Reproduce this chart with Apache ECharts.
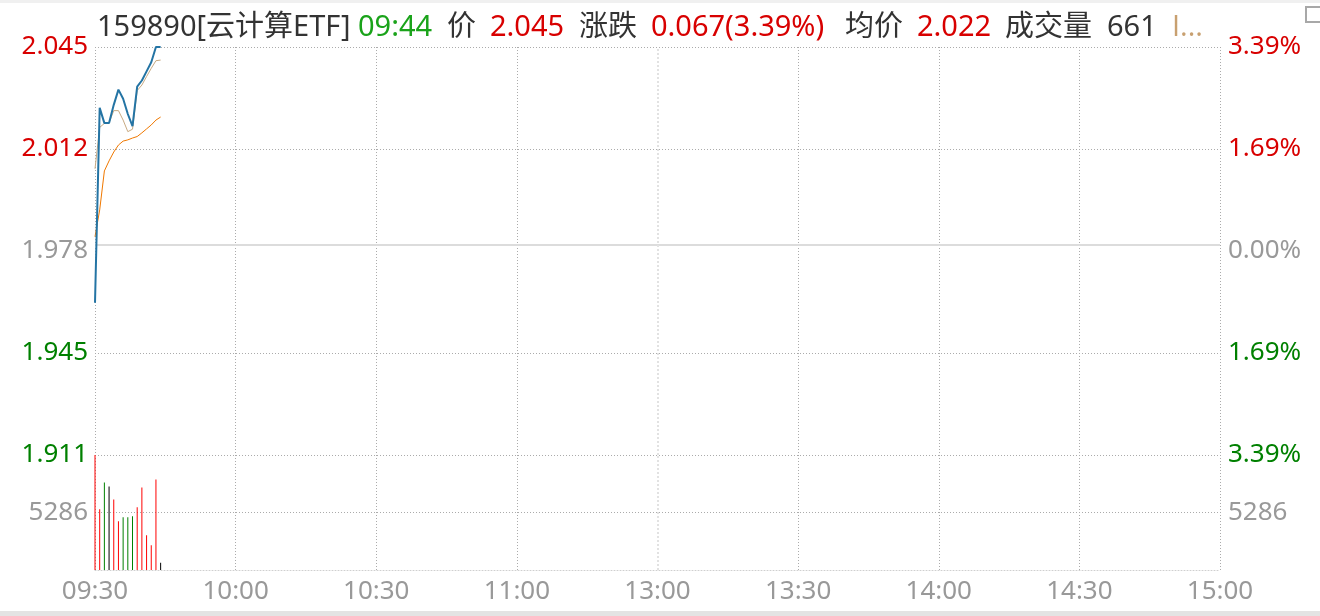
<!DOCTYPE html>
<html>
<head>
<meta charset="utf-8">
<script src="https://cdn.jsdelivr.net/npm/echarts@6/dist/echarts.min.js"></script>
<style>
html,body{margin:0;padding:0;background:#fff;}
#chart{width:1320px;height:616px;}
</style>
</head>
<body>
<div id="chart"></div>
<script>
// ---------- data ----------
const code = '159890';
const name = '云计算ETF';
const prevClose = 1.978;
const priceTicks = [1.911, 1.9445, 1.978, 2.0115, 2.045];
const priceTickLabels = ['1.911', '1.945', '1.978', '2.012', '2.045'];
const pctTickLabels = ['3.39%', '1.69%', '0.00%', '1.69%', '3.39%'];
const volTicks = [5286];
const volTickLabels = ['5286'];
const timeLabels = ['09:30', '10:00', '10:30', '11:00', '13:00', '13:30', '14:00', '14:30', '15:00'];
// minute data 09:30 .. 09:44
const priceLine = [1.961, 2.025, 2.020, 2.020, 2.026, 2.031, 2.028, 2.023, 2.019, 2.032, 2.034, 2.037, 2.040, 2.045, 2.045];
const refLine   = [2.005, 2.0186, 2.0199, 2.0201, 2.0241, 2.0241, 2.0210, 2.0172, 2.0180, 2.0307, 2.0325, 2.0353, 2.0380, 2.0405, 2.0407];
const avgLine   = [1.9827, 1.9915, 2.0043, 2.0076, 2.0105, 2.0128, 2.0141, 2.0145, 2.0151, 2.0156, 2.0168, 2.0181, 2.0194, 2.0210, 2.022];
const volumes   = [10572, 5576, 8044, 7678, 6490, 4479, 4845, 4845, 4936, 5759, 7587, 3199, 2285, 8318, 661];

// ---------- categories (trading minutes) ----------
function pad(n){return (n<10?'0':'')+n;}
const cats = [];
for (let i = 0; i <= 120; i++) {
  if (i === 120) { cats.push('13:00'); break; }
  const m = 9*60+30+i; cats.push(pad(Math.floor(m/60))+':'+pad(m%60));
}
for (let i = 1; i <= 120; i++) {
  const m = 13*60+i; cats.push(pad(Math.floor(m/60))+':'+pad(m%60));
}

const RED = '#d80000', GREEN = '#008000', GRAY = '#999999', DARK = '#333333';
const FONT = '"Noto Sans", "Noto Sans CJK SC", sans-serif';

function nearestIdx(arr, v){
  v = +v; let b = 0;
  for (let i = 1; i < arr.length; i++) if (Math.abs(arr[i]-v) < Math.abs(arr[b]-v)) b = i;
  return b;
}
function priceColor(v){
  const t = priceTicks[nearestIdx(priceTicks, v)];
  if (Math.abs(t - prevClose) < 1e-9) return GRAY;
  return t > prevClose ? RED : GREEN;
}
const timeInterval = function(idx, val){ return timeLabels.indexOf(val) >= 0 && (val !== '13:00' || idx === 120); };
const xSplitColors = timeLabels.map(t => t === '13:00' ? 'rgba(0,0,0,0)' : '#ababab');
const ySplitColors = priceTicks.map(t => Math.abs(t - prevClose) < 1e-9 ? 'rgba(0,0,0,0)' : '#ababab');

const barData = volumes.map((v, i) => {
  let c;
  if (i === 0) c = '#ff0000';
  else if (priceLine[i] > priceLine[i-1]) c = '#ff0000';
  else if (priceLine[i] < priceLine[i-1]) c = '#008000';
  else c = '#000000';
  return { value: v, itemStyle: { color: c } };
});

// header values
const n = priceLine.length - 1;
const lastPrice = priceLine[n];
const chg = lastPrice - prevClose;
const pct = chg / prevClose * 100;
const headerText =
  '{a|' + code + '[' + name + ']}' +
  '{g|' + cats[n] + '}' +
  '{b|价}' +
  '{r|' + lastPrice.toFixed(3) + '}' +
  '{c|涨跌}' +
  '{r2|' + chg.toFixed(3) + '(' + pct.toFixed(2) + '%)}' +
  '{c|均价}' +
  '{r3|' + avgLine[n].toFixed(3) + '}' +
  '{d|成交量}' +
  '{e|' + volumes[n] + '}' +
  '{t|I...}';

const chart = echarts.init(document.getElementById('chart'), null, {renderer: 'canvas'});
const splitLineX = { show: true, interval: timeInterval, lineStyle: { color: xSplitColors, type: [1, 2], width: 1 } };
const HF = 29;

chart.setOption({
  animation: false,
  backgroundColor: '#ffffff',
  title: {
    text: headerText,
    left: 92, top: 8,
    textStyle: {
      fontFamily: FONT, fontSize: HF, fontWeight: 'normal',
      rich: {
        a: { fontFamily: FONT, fontSize: HF, color: DARK, width: 261 },
        g: { fontFamily: FONT, fontSize: HF, color: '#1aa31a', width: 89 },
        b: { fontFamily: FONT, fontSize: HF, color: DARK, width: 43 },
        r: { fontFamily: FONT, fontSize: HF, color: RED, width: 89 },
        c: { fontFamily: FONT, fontSize: HF, color: DARK, width: 72 },
        r2: { fontFamily: FONT, fontSize: HF, color: RED, width: 194 },
        r3: { fontFamily: FONT, fontSize: HF, color: RED, width: 88 },
        d: { fontFamily: FONT, fontSize: HF, color: DARK, width: 102 },
        e: { fontFamily: FONT, fontSize: HF, color: DARK, width: 65 },
        t: { fontFamily: '"Open Sans", sans-serif', fontSize: HF, color: '#c8a070' }
      }
    }
  },
  graphic: [
    { type: 'rect', shape: { x: 0, y: 611, width: 1320, height: 5 }, style: { fill: '#e3e3e3' }, silent: true },
    { type: 'rect', shape: { x: 0, y: 0, width: 1320, height: 3 }, style: { fill: '#f0f0f0' }, silent: true },
    { type: 'rect', shape: { x: 1306, y: 7, width: 18, height: 15 }, style: { fill: 'none', stroke: '#a8a8a8', lineWidth: 2 }, silent: true }
  ],
  grid: [
    { left: 95, right: 100, top: 47, height: 408 },
    { left: 95, right: 100, top: 455, height: 115 }
  ],
  xAxis: [
    { gridIndex: 0, type: 'category', data: cats, boundaryGap: false,
      axisLine: { show: false }, axisTick: { show: false }, axisLabel: { show: false },
      splitLine: splitLineX },
    { gridIndex: 1, type: 'category', data: cats, boundaryGap: false,
      axisLine: { show: true, lineStyle: { color: '#cfcfcf', type: [1, 2], width: 1 } },
      axisTick: { show: false },
      axisLabel: { show: true, interval: timeInterval, color: GRAY, fontSize: 26, fontFamily: FONT, margin: 9 },
      splitLine: splitLineX }
  ],
  yAxis: [
    { gridIndex: 0, type: 'value', position: 'left', min: priceTicks[0], max: priceTicks[priceTicks.length-1],
      axisLine: { show: false },
      axisTick: { show: false, customValues: priceTicks },
      axisLabel: { customValues: priceTicks, margin: 7, fontSize: 26, fontFamily: FONT,
        formatter: v => priceTickLabels[nearestIdx(priceTicks, v)],
        color: v => priceColor(v) },
      splitLine: { show: true, lineStyle: { color: ySplitColors, type: [1, 2], width: 1 } } },
    { gridIndex: 0, type: 'value', position: 'right', min: priceTicks[0], max: priceTicks[priceTicks.length-1],
      axisLine: { show: false },
      axisTick: { show: false, customValues: priceTicks },
      axisLabel: { customValues: priceTicks, margin: 8, fontSize: 26, fontFamily: FONT,
        formatter: v => pctTickLabels[nearestIdx(priceTicks, v)],
        color: v => priceColor(v) },
      splitLine: { show: false } },
    { gridIndex: 1, type: 'value', position: 'left', min: 0, max: Math.max.apply(null, volumes),
      axisLine: { show: false },
      axisTick: { show: false, customValues: volTicks },
      axisLabel: { customValues: volTicks, margin: 7, fontSize: 26, fontFamily: FONT, color: GRAY,
        formatter: v => volTickLabels[nearestIdx(volTicks, v)] },
      splitLine: { show: true, lineStyle: { color: '#ababab', type: [1, 2], width: 1 } } },
    { gridIndex: 1, type: 'value', position: 'right', min: 0, max: Math.max.apply(null, volumes),
      axisLine: { show: false },
      axisTick: { show: false, customValues: volTicks },
      axisLabel: { customValues: volTicks, margin: 8, fontSize: 26, fontFamily: FONT, color: GRAY,
        formatter: v => volTickLabels[nearestIdx(volTicks, v)] },
      splitLine: { show: false } }
  ],
  series: [
    { type: 'line', xAxisIndex: 0, yAxisIndex: 0, data: avgLine, symbol: 'none', silent: true,
      lineStyle: { color: '#f07800', width: 1 }, z: 3,
      markLine: { silent: true, symbol: 'none', label: { show: false },
        data: [
          { yAxis: prevClose, lineStyle: { color: '#dcdcdc', type: 'solid', width: 2 } },
          { xAxis: '13:00', lineStyle: { color: '#e2e2e2', type: [2, 2], width: 2 } }
        ] } },
    { type: 'line', xAxisIndex: 0, yAxisIndex: 0, data: refLine, symbol: 'none', silent: true,
      lineStyle: { color: '#c8aa82', width: 1 }, z: 4 },
    { type: 'line', xAxisIndex: 0, yAxisIndex: 0, data: priceLine, symbol: 'none', silent: true,
      lineStyle: { color: '#2474a4', width: 2 }, z: 5 },
    { type: 'bar', xAxisIndex: 1, yAxisIndex: 2, data: barData, barWidth: 1, silent: true,
      markLine: { silent: true, symbol: 'none', label: { show: false },
        data: [ { xAxis: '13:00', lineStyle: { color: '#e2e2e2', type: [2, 2], width: 2 } } ] } }
  ]
});
</script>
</body>
</html>
